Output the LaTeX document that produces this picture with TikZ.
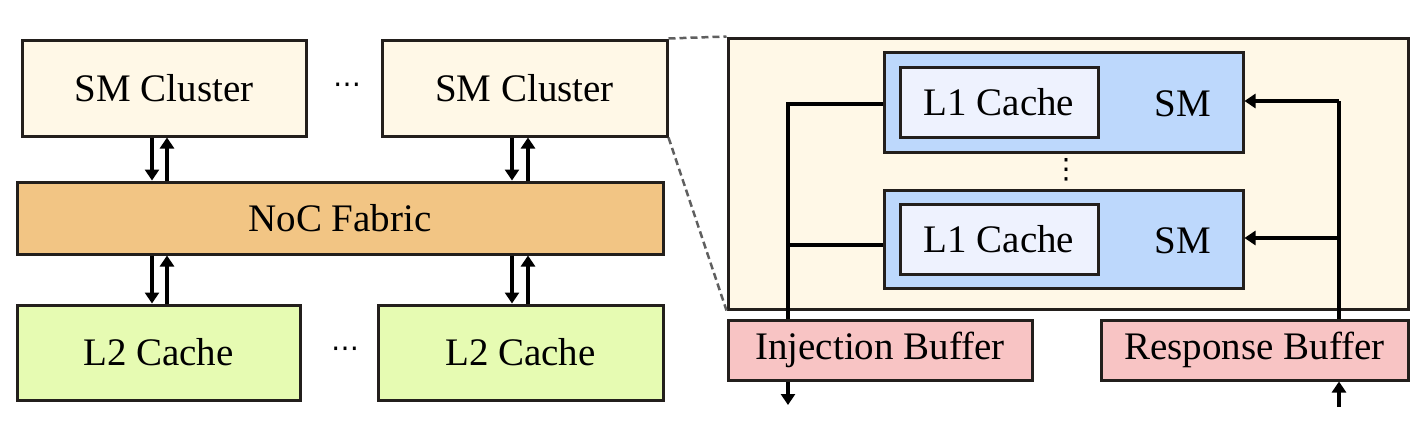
\documentclass[tikz,border=0pt]{standalone}
\usepackage{fontspec}
\setmainfont{Liberation Serif}
\newfontfamily\dejavu{DejaVu Sans}
\usetikzlibrary{arrows.meta,calc}
\definecolor{cream}{HTML}{FFF8E7}
\definecolor{nocc}{HTML}{F2C584}
\definecolor{ltwo}{HTML}{E6FBB2}
\definecolor{smblue}{HTML}{BDD8FC}
\definecolor{lone}{HTML}{EEF2FE}
\definecolor{bufpink}{HTML}{F8C4C4}
\definecolor{edge}{HTML}{231F1C}
\tikzset{
  box/.style={draw=edge,line width=3pt,inner sep=0pt,font=\fontsize{39}{44}\selectfont},
  lbl/.style={inner sep=0pt,font=\fontsize{39}{44}\selectfont},
  ell/.style={inner sep=0pt,font=\dejavu\fontsize{28}{32}\selectfont},
  arr/.style={line width=4.5pt,-{Triangle[length=11pt,width=14pt]}},
  link/.style={line width=4.5pt},
  zoomline/.style={draw={rgb,255:red,95;green,95;blue,95},line width=2.5pt,dash pattern=on 7pt off 4pt},
}
\begin{document}
\begin{tikzpicture}[x=1pt,y=-1pt]
\useasboundingbox (0,0) rectangle (1426,434);
% left part
\node[box,fill=cream,minimum width=284pt,minimum height=96pt] (smc1) at (164,88) {SM Cluster};
\node[box,fill=cream,minimum width=285pt,minimum height=96pt] (smc2) at (524.5,88) {SM Cluster};
\node[ell] (dots1) at (347,88) {⋯};
\node[box,fill=nocc,minimum width=646pt,minimum height=72pt] (noc) at (340,218) {NoC Fabric};
\node[box,fill=ltwo,minimum width=283pt,minimum height=95pt] (l2a) at (158.5,352.5) {L2 Cache};
\node[box,fill=ltwo,minimum width=285pt,minimum height=95pt] (l2b) at (520.5,352.5) {L2 Cache};
\node[ell] (dots2) at (345,352) {⋯};
% vertical arrow pairs
\foreach \u/\l/\xa/\xb in {smc1/noc/152/167, smc2/noc/512/528}{
  \draw[arr] (\xa,0 |- \u.south) -- (\xa,0 |- \l.north);
  \draw[arr] (\xb,0 |- \l.north) -- (\xb,0 |- \u.south);
}
\foreach \l/\xa/\xb in {l2a/152/167, l2b/512/528}{
  \draw[arr] (\xa,0 |- noc.south) -- (\xa,0 |- \l.north);
  \draw[arr] (\xb,0 |- \l.north) -- (\xb,0 |- noc.south);
}
% right part
\node[box,fill=cream,minimum width=680pt,minimum height=271pt] (cont) at (1068,173.5) {};
\draw[zoomline] (smc2.north east) -- (cont.north west);
\draw[zoomline] (smc2.south east) -- (cont.south west);
\node[box,fill=smblue,minimum width=359pt,minimum height=100pt] (sm1) at (1063.5,102) {};
\node[box,fill=lone,minimum width=198pt,minimum height=70pt] (l1a) at (999,102) {L1 Cache};
\node[lbl] (smt1) at (1183,104) {SM};
\node[box,fill=smblue,minimum width=359pt,minimum height=98pt] (sm2) at (1063.5,239) {};
\node[box,fill=lone,minimum width=198pt,minimum height=70pt] (l1b) at (999,239) {L1 Cache};
\node[lbl] (smt2) at (1183,241) {SM};
\node[ell] (vdots) at (1066,170) {⋮};
% spines
\coordinate (injtop) at (788,104);
\coordinate (injbr) at (788,245);
\coordinate (injend) at (788,405);
\coordinate (restop) at (1339,101);
\coordinate (resbr) at (1339,238);
\coordinate (resstart) at (1339,407);
\draw[link] (sm1.west |- injtop) -- (injtop) -- (788,330);
\draw[link] (sm2.west |- injbr) -- (injbr);
\draw[link] (1339,330) -- (restop);
\draw[arr] (restop) -- (sm1.east |- restop);
\draw[arr] (resbr) -- (sm2.east |- resbr);
\node[box,fill=bufpink,minimum width=304pt,minimum height=60pt] (inj) at (880,350) {Injection Buffer};
\node[box,fill=bufpink,minimum width=307pt,minimum height=60pt] (resp) at (1254.5,350) {Response Buffer};
\draw[arr] (788,0 |- inj.south) -- (injend);
\draw[arr] (resstart) -- (1339,0 |- resp.south);
\end{tikzpicture}
\end{document}
